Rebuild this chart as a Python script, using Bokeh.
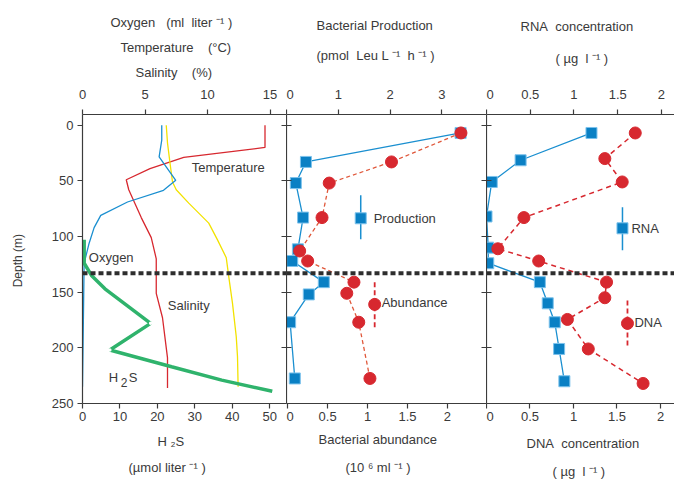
from bokeh.plotting import figure
from bokeh.models import Range1d, LinearAxis, FixedTicker, Label, Span, Title
from bokeh.layouts import row
from bokeh.embed import file_html
from bokeh.resources import INLINE

# ---------------- data ----------------
DEPTH_TICKS = [0, 50, 100, 150, 200, 250]
TOS_TICKS = [0, 5, 10, 15]
H2S_TICKS = [0, 10, 20, 30, 40, 50]
PROD_TICKS = [0, 1, 2, 3]
ABUND_TICKS = [0, 0.5, 1, 1.5, 2]
RNA_TICKS = [0, 0.5, 1, 1.5, 2]
DNA_TICKS = [0, 0.5, 1, 1.5, 2]

temp_depth = [0, 20, 29, 39, 49, 58, 83, 101, 120, 151, 173, 209, 236]
temp_val = [14.6, 14.6, 8.1, 5.4, 3.5, 3.7, 4.7, 5.5, 5.9, 5.9, 6.4, 6.8, 6.8]

sal_depth = [0, 16, 34, 51, 58, 70, 88, 103, 119, 136, 160, 190, 208, 235]
sal_val = [6.7, 6.8, 7.0, 7.2, 7.5, 8.5, 10.1, 10.8, 11.5, 11.7, 12.0, 12.3, 12.4, 12.45]

oxy_depth = [0, 13.5, 28.5, 49.5, 58.5, 69, 81, 92, 106, 124, 235]
oxy_val = [6.34, 6.34, 6.13, 7.46, 6.48, 3.6, 1.46, 0.93, 0.53, 0.13, 0.0]

h2s_depth = [103, 124, 135, 147, 178, 202, 217, 229, 239]
h2s_val = [0.45, 0.45, 2.4, 6.0, 18.2, 7.3, 23.8, 37.2, 50.7]

bp_depth = [7, 33, 52, 83, 111.5, 122, 141, 152, 177, 227.5]
prod_val = [3.36, 0.375, 0.18, 0.32, 0.22, 0.11, 0.72, 0.43, 0.07, 0.16]
ab_depth = [7, 33, 52, 83, 113, 122, 141, 151, 177, 227.5]
abund_val = [2.17, 1.30, 0.52, 0.43, 0.15, 0.25, 0.83, 0.74, 0.89, 1.03]

rna_depth = [7, 31.5, 51, 82, 110, 124, 141, 160, 177, 201, 230]
rna_val = [1.20, 0.39, 0.06, 0.0, 0.02, 0.02, 0.61, 0.70, 0.78, 0.83, 0.89]
dna_depth = [7, 30, 51, 83, 111, 122, 141, 155, 174.5, 201, 232]
dna_val = [1.71, 1.36, 1.56, 0.43, 0.13, 0.60, 1.38, 1.36, 0.93, 1.17, 1.80]

INTERFACE_DEPTH = 133

# ---------------- style ----------------
FONT = "Liberation Sans"
TXT = "#3a3a3a"
AX = "#3c3c3c"
RED = "#d7282f"
BLUE = "#1a8fd0"
SQ = "#0a80c4"
YEL = "#f2e200"
GRN = "#2fb36c"
ORANGE = "#e0573a"
H = 483
TOP = 114
FRAME_H = 289
Y_TOP, Y_BOT = -9.6, 250
NB = "\u00a0"
SUP_M1 = "\u207b\u00b9"


def fig(width, left, xr, extra=None):
    p = figure(width=width, height=H, x_range=xr, y_range=Range1d(Y_BOT, Y_TOP),
               output_backend="svg", toolbar_location=None,
               x_axis_location=None, y_axis_location=None,
               min_border_left=left, min_border_right=0,
               min_border_top=TOP, min_border_bottom=H - TOP - FRAME_H)
    if extra:
        p.extra_x_ranges = extra
    p.grid.visible = False
    p.outline_line_color = None
    p.background_fill_color = "white"
    p.border_fill_color = "white"
    return p


def style(ax, ticks, tin, tout, labels=True, standoff=4):
    ax.ticker = FixedTicker(ticks=ticks)
    ax.minor_tick_line_color = None
    ax.major_tick_in = tin
    ax.major_tick_out = tout
    ax.axis_line_color = AX
    ax.major_tick_line_color = AX
    ax.axis_line_width = 1.2
    ax.major_tick_line_width = 1.2
    ax.major_label_text_font = FONT
    ax.major_label_text_color = TXT
    if labels:
        ax.major_label_text_font_size = "13px"
        ax.major_label_standoff = standoff
        ax.major_label_overrides = {t: f"{t:g}" for t in ticks}
    else:
        ax.major_label_text_font_size = "0px"
        ax.major_label_standoff = 0
        ax.major_label_overrides = {t: "" for t in ticks}
    return ax


def lab(p, x, y, text, size=13, align="left"):
    # in-frame label, data units
    p.add_layout(Label(x=x, y=y, text=text, text_font=FONT, text_font_size=f"{size}px",
                       text_color=TXT, text_align=align, text_baseline="middle"))


def title(p, side, text, offset, standoff, size=13):
    p.add_layout(Title(text=text, align="left", offset=offset, standoff=standoff,
                       text_font=FONT, text_font_size=f"{size}px",
                       text_font_style="normal", text_color=TXT), side)


def spacer(p, side, standoff):
    p.add_layout(Title(text=NB, standoff=standoff, text_font=FONT, text_font_size="1px",
                       text_font_style="normal", text_color="white"), side)


def dy(py):
    return (py - 125) / 1.112


# ---------------- panel 1 ----------------
def x1(px):
    return (px - 81.7) / 12.5

p1 = fig(286, 82, Range1d(0, 16.32), {"h2s": Range1d(0, 54.5)})
p1.add_layout(style(LinearAxis(), TOS_TICKS, 0, 5, standoff=11), "above")
p1.add_layout(style(LinearAxis(x_range_name="h2s"), H2S_TICKS, 0, 5, standoff=3), "below")
la = style(LinearAxis(), DEPTH_TICKS, 0, 5)
la.axis_label = "Depth  (m)"
la.axis_label_text_font = FONT
la.axis_label_text_font_size = "12px"
la.axis_label_text_font_style = "normal"
la.axis_label_text_color = TXT
la.axis_label_standoff = 24
p1.add_layout(la, "left")
ra = style(LinearAxis(), DEPTH_TICKS, 5, 0, labels=False)
ra.axis_line_color = None
p1.add_layout(ra, "right")

p1.line(temp_val, temp_depth, line_color=RED, line_width=1.3)
p1.line(sal_val, sal_depth, line_color=YEL, line_width=1.3)
p1.line(oxy_val, oxy_depth, line_color=BLUE, line_width=1.3)
p1.line(h2s_val, h2s_depth, line_color=GRN, line_width=3.5, x_range_name="h2s")
p1.scatter([h2s_val[4], h2s_val[5]], [h2s_depth[4], h2s_depth[5]], size=3.5,
           fill_color="white", line_color=None, x_range_name="h2s")

lab(p1, x1(191), dy(167), "Temperature")
lab(p1, x1(88), dy(257), "Oxygen")
lab(p1, x1(167), dy(305), "Salinity")
lab(p1, x1(108), dy(377), "H")
lab(p1, x1(120), dy(382), "2", 12)
lab(p1, x1(128), dy(377), "S")

title(p1, "above", f"Salinity{NB*3} (%)", 53, 14)
title(p1, "above", f"Temperature{NB*3} (°C)", 38, 2)
title(p1, "above", f"Oxygen{NB*2} (ml{NB} liter {SUP_M1} )", 28, 14)
title(p1, "below", f"H{NB}\u2082S", 75, 17)
title(p1, "below", f"(µmol liter {SUP_M1} )", 46, 0)

# ---------------- panel 2 ----------------
def x2(px):
    return (px - 285.5) / 52.0

p2 = fig(200, 0, Range1d(0, 3.86), {"abund": Range1d(-0.015, 2.49)})
p2.add_layout(style(LinearAxis(), PROD_TICKS, 0, 5, standoff=11), "above")
p2.add_layout(style(LinearAxis(x_range_name="abund"), ABUND_TICKS, 0, 5, standoff=3), "below")
p2.add_layout(style(LinearAxis(), DEPTH_TICKS, 5, 0, labels=False), "left")
ra2 = style(LinearAxis(), DEPTH_TICKS, 5, 0, labels=False)
ra2.axis_line_color = None
p2.add_layout(ra2, "right")

p2.line(prod_val, bp_depth, line_color=BLUE, line_width=1.3)
p2.scatter(prod_val, bp_depth, marker="square", size=11, fill_color=SQ,
           line_color="#7cc2ec", line_width=1)
p2.line(abund_val, ab_depth, line_color=ORANGE, line_width=1.3, line_dash="4 3",
        x_range_name="abund")
p2.scatter(abund_val, ab_depth, marker="circle", size=12, fill_color=RED,
           line_color=RED, x_range_name="abund")

# legend keys
p2.segment([x2(360)], [dy(195)], [x2(360)], [dy(239)], line_color=BLUE, line_width=1.5)
p2.scatter([x2(360)], [dy(218)], marker="square", size=11, fill_color=SQ,
           line_color="#7cc2ec", line_width=1)
lab(p2, x2(373), dy(218), "Production")
p2.segment([x2(374)], [dy(282)], [x2(374)], [dy(327)], line_color=RED, line_width=1.8,
           line_dash="5 3")
p2.scatter([x2(374)], [dy(304)], marker="circle", size=12, fill_color=RED, line_color=RED)
lab(p2, x2(381), dy(302), "Abundance")

spacer(p2, "above", 15)
title(p2, "above", f"(pmol{NB} Leu L {SUP_M1}{NB} h {SUP_M1} )", 30, 12)
title(p2, "above", "Bacterial Production", 30, 14)
title(p2, "below", "Bacterial abundance", 32, 13)
title(p2, "below", f"(10 \u2076 ml {SUP_M1} )", 59, 9)

# ---------------- panel 3 ----------------
def x3(px):
    return (px - 486) / 87.5

p3 = fig(188, 0, Range1d(0, 2.149), {"dna": Range1d(0, 2.161)})
p3.add_layout(style(LinearAxis(), RNA_TICKS, 0, 5, standoff=11), "above")
p3.add_layout(style(LinearAxis(x_range_name="dna"), DNA_TICKS, 0, 5, standoff=3), "below")
p3.add_layout(style(LinearAxis(), DEPTH_TICKS, 5, 0, labels=False), "left")

p3.line(rna_val, rna_depth, line_color=BLUE, line_width=1.3)
p3.scatter(rna_val, rna_depth, marker="square", size=11, fill_color=SQ,
           line_color="#7cc2ec", line_width=1)
p3.line(dna_val, dna_depth, line_color=RED, line_width=1.5, line_dash="5 4",
        x_range_name="dna")
p3.scatter(dna_val, dna_depth, marker="circle", size=12, fill_color=RED,
           line_color=RED, x_range_name="dna")

p3.segment([x3(622)], [dy(207)], [x3(622)], [dy(250)], line_color=BLUE, line_width=1.5)
p3.scatter([x3(622)], [dy(228)], marker="square", size=11, fill_color=SQ,
           line_color="#7cc2ec", line_width=1)
lab(p3, x3(631), dy(228), "RNA")
p3.segment([x3(627)], [dy(300)], [x3(627)], [dy(345)], line_color=RED, line_width=1.8,
           line_dash="5 3")
p3.scatter([x3(627)], [dy(323)], marker="circle", size=12, fill_color=RED, line_color=RED)
lab(p3, x3(634), dy(322), "DNA")

spacer(p3, "above", 9.5)
title(p3, "above", f"( µg{NB} l {SUP_M1} )", 69, 15)
title(p3, "above", f"RNA{NB} concentration", 34, 15)
title(p3, "below", f"DNA{NB} concentration", 40, 21)
title(p3, "below", f"( µg{NB} l {SUP_M1} )", 66, 0)

for p in (p1, p2, p3):
    p.add_layout(Span(location=INTERFACE_DEPTH, dimension="width", line_color="#2e2e2e",
                      line_width=4, line_dash="5 3"))

layout = row(p1, p2, p3)
open("out.html", "w").write(file_html(layout, INLINE))
